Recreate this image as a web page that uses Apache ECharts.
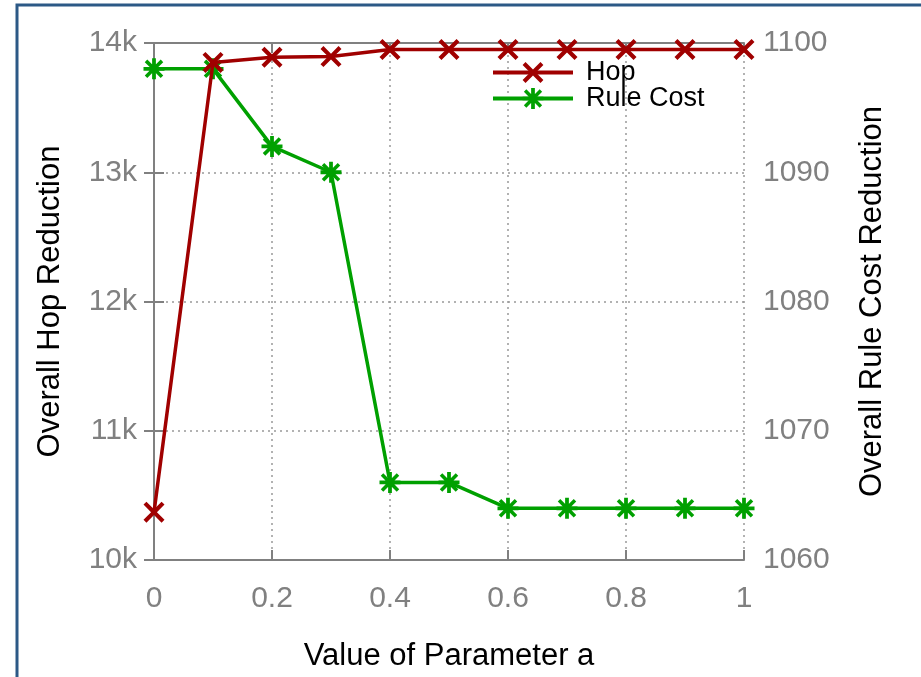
<!DOCTYPE html>
<html>
<head>
<meta charset="utf-8">
<script src="https://cdn.jsdelivr.net/npm/echarts@6/dist/echarts.min.js"></script>
<style>
  html, body { margin: 0; padding: 0; background: #fff; }
  #chart { width: 921px; height: 677px; }
</style>
</head>
<body>
<div id="chart"></div>
<script>
// values
var paramA = [0, 0.1, 0.2, 0.3, 0.4, 0.5, 0.6, 0.7, 0.8, 0.9, 1]
var hop = [10370, 13850, 13890, 13895, 13950, 13950, 13950, 13950, 13950, 13950, 13950]
var ruleCost = [1098, 1098, 1092, 1090, 1066, 1066, 1064, 1064, 1064, 1064, 1064]
var leftTicks = { min: 10000, max: 14000, step: 1000 }
var rightTicks = { min: 1060, max: 1100, step: 10 }

var FONT = 'Liberation Sans'
var GREY = '#808080'
var RED = '#a00000'
var GREEN = '#00a000'

// x-shaped and asterisk markers
var xMark = 'path://M-5,-3.6L-3.6,-5L0,-1.4L3.6,-5L5,-3.6L1.4,0L5,3.6L3.6,5L0,1.4L-3.6,5L-5,3.6L-1.4,0Z'
var starMark = 'path://M-0.9,-5L0.9,-5L0.9,-0.9L5,-0.9L5,0.9L0.9,0.9L0.9,5L-0.9,5L-0.9,0.9L-5,0.9L-5,-0.9L-0.9,-0.9Z' +
  'M-4.4,-3.2L-3.2,-4.4L0,-1.2L3.2,-4.4L4.4,-3.2L1.2,0L4.4,3.2L3.2,4.4L0,1.2L-3.2,4.4L-4.4,3.2L-1.2,0Z'

function pairs(xs, ys) {
  return xs.map(function (x, i) { return [x, ys[i]] })
}

var chart = echarts.init(document.getElementById('chart'))

var axisLine = { show: true, lineStyle: { color: GREY, width: 2 } }
var tick = { show: true, inside: true, length: 10, lineStyle: { color: GREY, width: 2 } }
var grid = { show: true, lineStyle: { color: '#999', width: 1.5, type: [2, 4] } }
var labels = { color: GREY, fontFamily: FONT, fontSize: 30 }
var nameStyle = { color: '#000', fontFamily: FONT, fontSize: 31 }

chart.setOption({
  animation: false,
  backgroundColor: '#fff',
  graphic: [{
    type: 'rect',
    shape: { x: 17, y: 5, width: 920, height: 700 },
    style: { fill: 'none', stroke: '#2c5986', lineWidth: 3 },
    silent: true
  }],
  grid: { left: 154, right: 177, top: 43, bottom: 116 },
  legend: {
    orient: 'vertical',
    left: 491,
    top: 59,
    padding: 0,
    itemWidth: 80,
    itemHeight: 26,
    itemGap: -1,
    lineStyle: { width: 4 },
    textStyle: { color: '#000', fontFamily: FONT, fontSize: 27, lineHeight: 25, height: 25, padding: [0, 0, 0, 8] },
    data: ['Hop', 'Rule Cost']
  },
  xAxis: [{
    type: 'value',
    min: 0, max: 1, interval: 0.2,
    name: 'Value of Parameter a',
    nameLocation: 'middle',
    nameGap: 81,
    nameTextStyle: nameStyle,
    axisLine: axisLine,
    axisTick: tick,
    axisLabel: Object.assign({ margin: 24 }, labels),
    splitLine: grid
  }, {
    type: 'value',
    position: 'top',
    min: 0, max: 1, interval: 0.2,
    axisLine: axisLine,
    axisTick: tick,
    axisLabel: { show: false },
    splitLine: { show: false }
  }],
  yAxis: [{
    type: 'value',
    min: leftTicks.min, max: leftTicks.max, interval: leftTicks.step,
    name: 'Overall Hop Reduction',
    nameLocation: 'middle',
    nameGap: 88,
    nameTextStyle: nameStyle,
    axisLine: axisLine,
    axisTick: tick,
    axisLabel: Object.assign({ margin: 17, formatter: function (v) { return (v / 1000) + 'k' } }, labels),
    splitLine: grid
  }, {
    type: 'value',
    position: 'right',
    min: rightTicks.min, max: rightTicks.max, interval: rightTicks.step,
    name: 'Overall Rule Cost Reduction',
    nameLocation: 'middle',
    nameGap: 113,
    nameRotate: 90,
    nameTextStyle: nameStyle,
    axisLine: axisLine,
    axisTick: tick,
    axisLabel: Object.assign({ margin: 19, formatter: function (v) { return String(v) } }, labels),
    splitLine: { show: false }
  }],
  series: [{
    name: 'Hop',
    type: 'line',
    yAxisIndex: 0,
    data: pairs(paramA, hop),
    symbol: xMark,
    symbolSize: 21,
    color: RED,
    lineStyle: { color: RED, width: 3.5 },
    itemStyle: { color: RED },
    z: 3
  }, {
    name: 'Rule Cost',
    type: 'line',
    yAxisIndex: 1,
    data: pairs(paramA, ruleCost),
    symbol: starMark,
    symbolSize: 21,
    color: GREEN,
    lineStyle: { color: GREEN, width: 3.5 },
    itemStyle: { color: GREEN },
    z: 2
  }]
})
</script>
</body>
</html>
